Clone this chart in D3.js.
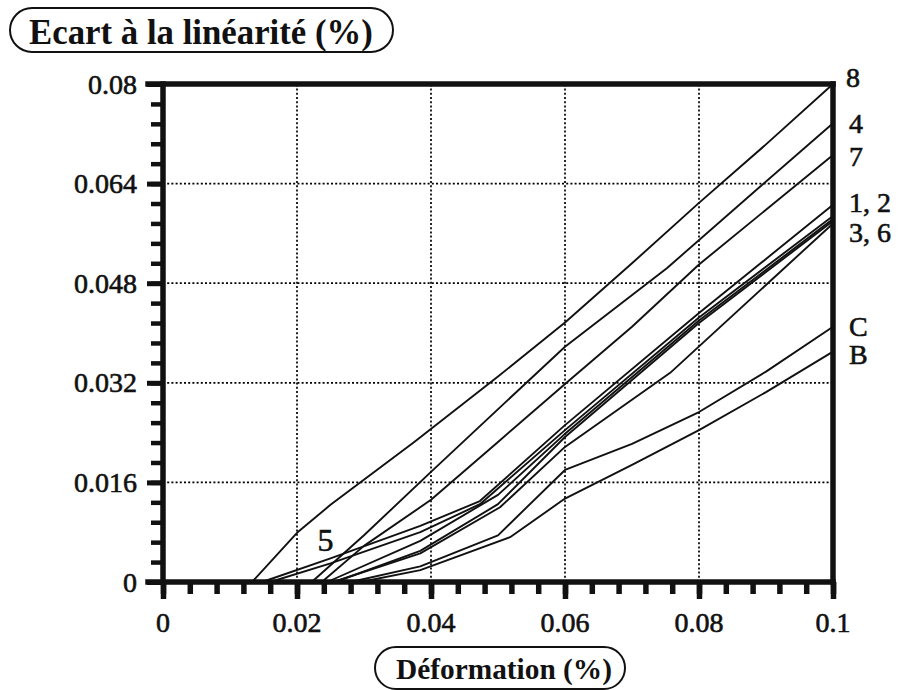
<!DOCTYPE html>
<html><head><meta charset="utf-8">
<script src="https://cdn.jsdelivr.net/npm/d3@7/dist/d3.min.js"></script>
<style>body{margin:0;background:#fff}svg{display:block}</style>
</head><body>
<svg id="chart" width="906" height="690"></svg>
<script>
// ---------- data (x: Déformation %, y: Ecart à la linéarité %) ----------
const line8 = [[0.0133,0],[0.02,0.0079],[0.025,0.0124],[0.0375,0.0225],[0.05,0.0330],[0.06,0.0417],[0.07,0.0512],[0.08,0.0609],[0.09,0.0703],[0.1,0.0800]];
const line4 = [[0.0222,0],[0.03,0.0075],[0.04,0.0177],[0.06,0.0378],[0.0752,0.0504],[0.0891,0.0635],[0.1,0.0737]];
const line7 = [[0.0237,0],[0.03,0.0058],[0.04,0.0132],[0.05,0.0225],[0.06,0.0318],[0.07,0.0410],[0.08,0.0510],[0.09,0.0598],[0.1,0.0686]];
const line1 = [[0.0148,0],[0.025,0.0038],[0.0384,0.0090],[0.0473,0.0130],[0.06,0.0252],[0.08,0.0432],[0.1,0.0606]];
const line2 = [[0.0160,0],[0.025,0.0030],[0.0384,0.0080],[0.0473,0.0125],[0.06,0.0244],[0.08,0.0425],[0.1,0.0588]];
const line3 = [[0.0245,0],[0.0384,0.0066],[0.05,0.0140],[0.06,0.0238],[0.08,0.0420],[0.1,0.0583]];
const line5 = [[0.0257,0],[0.0384,0.0050],[0.05,0.0125],[0.06,0.0233],[0.08,0.0416],[0.1,0.0580]];
const line6 = [[0.0254,0],[0.0384,0.0046],[0.0503,0.0120],[0.06,0.0217],[0.0757,0.0336],[0.1,0.0576]];
const lineC = [[0.0280,0],[0.0384,0.0025],[0.05,0.0075],[0.06,0.0180],[0.07,0.0222],[0.08,0.0273],[0.09,0.0338],[0.1,0.0410]];
const lineB = [[0.0295,0],[0.0384,0.0019],[0.0518,0.0072],[0.06,0.0134],[0.07,0.0188],[0.08,0.0244],[0.09,0.0305],[0.1,0.0370]];
const seriesNames = ["8","4","7","1","2","3","5","6","C","B"];
const seriesData  = [line8,line4,line7,line1,line2,line3,line5,line6,lineC,lineB];

const xTicks = [0,0.02,0.04,0.06,0.08,0.1];
const xTickLabels = ["0","0.02","0.04","0.06","0.08","0.1"];
const yTicks = [0,0.016,0.032,0.048,0.064,0.08];
const yTickLabels = ["0","0.016","0.032","0.048","0.064","0.08"];
const xMinor = d3.range(0,0.1001,0.004);
const yMinor = d3.range(0,0.08001,0.0032);

const endLabels = ["8","4","7","1, 2","3, 6","C","B"];
const endLabelY = [0.0811,0.0737,0.0684,0.0610,0.0562,0.0411,0.0366];
const innerLabel = {text:"5", x:0.02425, y:0.0067};

const titleText = "Ecart à la linéarité (%)";
const xTitleText = "Déformation (%)";

// ---------- drawing ----------
const FONT = "'Liberation Serif','Times New Roman',serif";
const svg = d3.select("#chart");
const x = d3.scaleLinear().domain([0,0.1]).range([163,833]);
const y = d3.scaleLinear().domain([0,0.08]).range([582,84]);

function fit(sel, w){
  const n = sel.node(); const cur = n.getComputedTextLength();
  const fs = parseFloat(sel.attr("font-size"));
  sel.attr("font-size", fs*w/cur);
}

// grid
const grid = svg.append("g").attr("stroke","#000").attr("stroke-width",1.7).attr("stroke-dasharray","2,2.2");
grid.selectAll("line.v").data(xTicks.slice(1,-1)).join("line")
  .attr("x1",d=>x(d)).attr("x2",d=>x(d)).attr("y1",y(0)).attr("y2",y(0.08));
grid.selectAll("line.h").data(yTicks.slice(1,-1)).join("line")
  .attr("y1",d=>y(d)).attr("y2",d=>y(d)).attr("x1",x(0)).attr("x2",x(0.1));

// lines
const lineGen = d3.line().x(d=>x(d[0])).y(d=>y(d[1]));
svg.append("g").selectAll("path").data(seriesData).join("path")
  .attr("d",lineGen).attr("fill","none").attr("stroke","#111").attr("stroke-width",1.9)
  .attr("stroke-linejoin","round");

// axes (minor + major ticks)
function styleAxis(g, w){
  g.select(".domain").remove();
  g.selectAll(".tick line").attr("stroke","#111").attr("stroke-width",w);
  g.selectAll(".tick text").remove();
}
const yMinorAxis = d3.axisLeft(y).tickValues(yMinor).tickSize(12).tickFormat("");
const yMajorAxis = d3.axisLeft(y).tickValues(yTicks).tickSize(16).tickFormat("");
svg.append("g").attr("transform",`translate(${x(0)},0)`).call(yMinorAxis).call(g=>styleAxis(g,4.5));
svg.append("g").attr("transform",`translate(${x(0)},0)`).call(yMajorAxis).call(g=>styleAxis(g,5));
const xMinorAxis = d3.axisBottom(x).tickValues(xMinor).tickSize(12).tickFormat("");
const xMajorAxis = d3.axisBottom(x).tickValues(xTicks).tickSize(17).tickFormat("");
svg.append("g").attr("transform",`translate(0,${y(0)})`).call(xMinorAxis).call(g=>styleAxis(g,5.5));
svg.append("g").attr("transform",`translate(0,${y(0)})`).call(xMajorAxis).call(g=>styleAxis(g,5.5));

// frame
const fr = svg.append("g").attr("stroke","#111").attr("stroke-width",5.5).attr("stroke-linecap","square");
fr.append("line").attr("x1",x(0)).attr("x2",x(0)).attr("y1",y(0)).attr("y2",y(0.08));
fr.append("line").attr("x1",x(0)-15).attr("x2",x(0.1)).attr("y1",y(0)).attr("y2",y(0));
fr.append("line").attr("x1",x(0)-15).attr("x2",x(0.1)).attr("y1",y(0.08)).attr("y2",y(0.08));
fr.append("line").attr("x1",x(0.1)).attr("x2",x(0.1)).attr("y1",y(0.08)).attr("y2",y(0));

// tick labels
const heavy = s => s.attr("font-family",FONT).attr("fill","#111").attr("stroke","#111").attr("stroke-width",0.6);
svg.append("g").selectAll("text").data(xTicks).join("text")
  .attr("x",d=>x(d)).attr("y",632).attr("text-anchor","middle").attr("font-size",28)
  .call(heavy).text((d,i)=>xTickLabels[i]);
svg.append("g").selectAll("text").data(yTicks).join("text")
  .attr("x",137).attr("y",d=>y(d)+9.5).attr("text-anchor","end").attr("font-size",28)
  .call(heavy).text((d,i)=>yTickLabels[i]);

// end labels
svg.append("g").selectAll("text").data(endLabelY).join("text")
  .attr("x",(d,i)=> i===0?846:849).attr("y",d=>y(d)+9.5).attr("font-size",28)
  .call(heavy).text((d,i)=>endLabels[i]);
svg.append("text").attr("x",x(innerLabel.x)).attr("y",y(innerLabel.y)+11)
  .attr("text-anchor","middle").attr("font-size",32).call(heavy)
  .text(innerLabel.text);

// title box
svg.append("rect").attr("x",10).attr("y",8).attr("width",383).attr("height",44).attr("rx",22)
  .attr("fill","none").attr("stroke","#111").attr("stroke-width",2);
const t1 = svg.append("text").attr("x",201).attr("y",44).attr("text-anchor","middle")
  .attr("font-family",FONT).attr("font-weight","bold").attr("font-size",32).attr("fill","#111").text(titleText);
fit(t1,344);

// x title box
svg.append("rect").attr("x",375).attr("y",647).attr("width",250).attr("height",42).attr("rx",21)
  .attr("fill","none").attr("stroke","#111").attr("stroke-width",2);
const t2 = svg.append("text").attr("x",504).attr("y",679).attr("text-anchor","middle")
  .attr("font-family",FONT).attr("font-weight","bold").attr("font-size",30).attr("fill","#111").text(xTitleText);
fit(t2,216);
</script>
</body></html>
